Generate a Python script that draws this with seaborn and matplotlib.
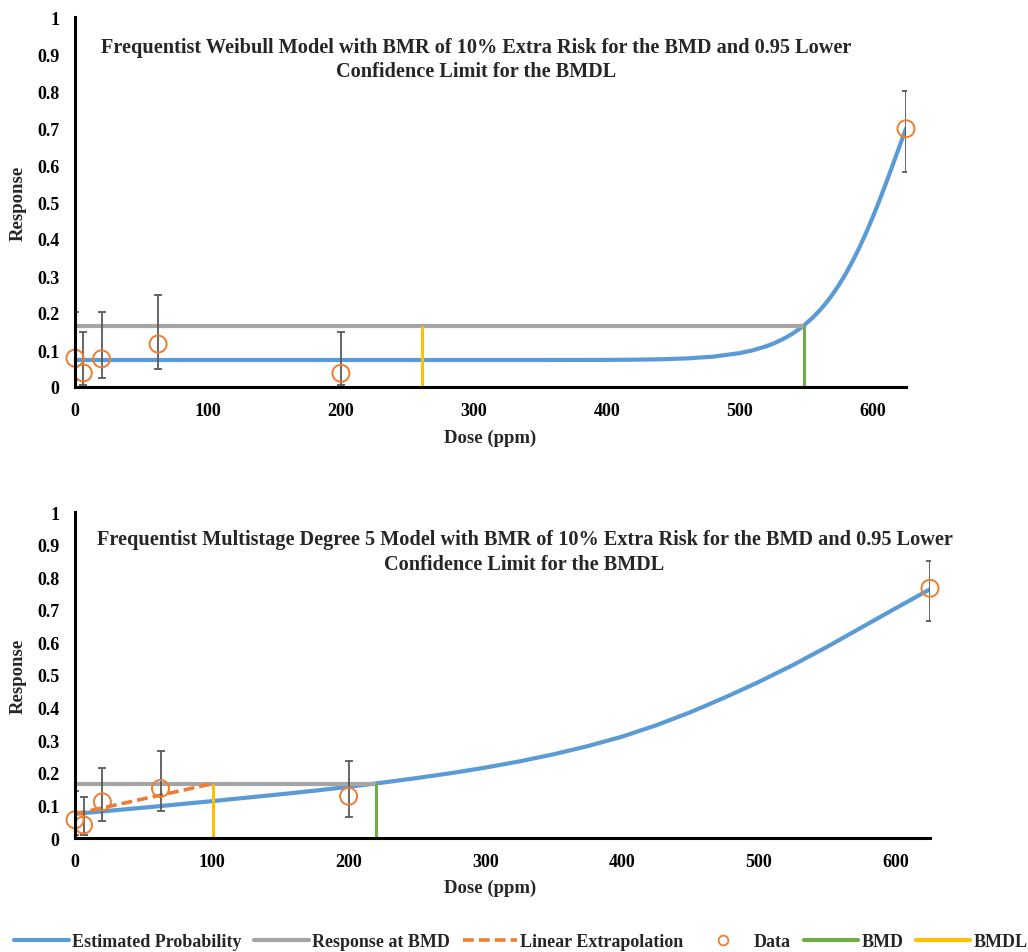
import matplotlib
matplotlib.use("Agg")
import matplotlib.pyplot as plt
from matplotlib.lines import Line2D
import seaborn as sns

sns.set_style("white")
plt.rcParams["font.family"] = ["Liberation Serif", "DejaVu Serif"]
plt.rcParams["font.weight"] = "bold"

# ---- colours (Office palette) ----
BLUE = "#5B9BD5"
GRAY = "#A5A5A5"
ORANGE = "#ED7D31"
GREEN = "#70AD47"
YELLOW = "#FFC000"
ERR = "#595959"

# ---- shared ----
doses = [0, 6.25, 20, 62.5, 200, 625]
y_ticks = [0, 0.1, 0.2, 0.3, 0.4, 0.5, 0.6, 0.7, 0.8, 0.9, 1.0]
y_tick_labels = ["0", "0.1", "0.2", "0.3", "0.4", "0.5", "0.6", "0.7", "0.8", "0.9", "1"]
x_ticks = [0, 100, 200, 300, 400, 500, 600]
x_tick_labels = ["0", "100", "200", "300", "400", "500", "600"]

# ---- Weibull panel ----
wb_title = ("Frequentist Weibull Model with BMR of 10% Extra Risk for the BMD and 0.95 Lower\n"
            "Confidence Limit for the BMDL")
wb_resp = [0.078, 0.038, 0.076, 0.116, 0.037, 0.698]
wb_low = [0.02, 0.005, 0.025, 0.05, 0.005, 0.58]
wb_high = [0.203, 0.148, 0.203, 0.25, 0.148, 0.80]
wb_curve_dose = [0, 100, 200, 300, 350, 400, 420, 440, 460, 480, 500, 510, 520, 525,
                 530, 535, 540, 545, 548, 555, 560, 565, 570, 575, 580, 585, 590,
                 595, 600, 605, 610, 615, 620, 625]
wb_curve_prob = [0.073, 0.073, 0.073, 0.073, 0.073, 0.0733, 0.0738, 0.0749, 0.0772,
                 0.0820, 0.0916, 0.0994, 0.1102, 0.1170, 0.1251, 0.1343, 0.1450,
                 0.1574, 0.1657, 0.1880, 0.2066, 0.2277, 0.2516, 0.2783, 0.3082,
                 0.3413, 0.3774, 0.4168, 0.4591, 0.5041, 0.5512, 0.6000, 0.6493,
                 0.6985]
wb_bmd = 548
wb_bmdl = 261
wb_bmd_resp = 0.165

# ---- Multistage panel ----
ms_title = ("Frequentist Multistage Degree 5 Model with BMR of 10% Extra Risk for the BMD and 0.95 Lower\n"
            "Confidence Limit for the BMDL")
ms_resp = [0.056, 0.040, 0.111, 0.152, 0.128, 0.766]
ms_low = [0.01, 0.009, 0.052, 0.083, 0.063, 0.667]
ms_high = [0.145, 0.127, 0.215, 0.267, 0.237, 0.851]
ms_curve_dose = [0, 25, 50, 75, 100, 125, 150, 175, 200, 225, 250, 275, 300, 325,
                 350, 375, 400, 425, 450, 475, 500, 525, 550, 575, 600, 625]
ms_curve_prob = [0.074, 0.0835, 0.093, 0.103, 0.113, 0.1235, 0.134, 0.145, 0.157,
                 0.170, 0.184, 0.199, 0.216, 0.235, 0.257, 0.282, 0.311, 0.346,
                 0.386, 0.431, 0.479, 0.531, 0.587, 0.646, 0.705, 0.763]
ms_bmd = 220
ms_bmdl = 101
ms_bmd_resp = 0.167
ms_background = 0.074


def draw_panel(ax, title, title_x, title_y, resp, low, high, cdose, cprob,
               bmd, bmdl, bmd_resp, background=None):
    sns.lineplot(x=cdose, y=cprob, ax=ax, color=BLUE, linewidth=3, zorder=2)
    ax.plot([0, bmd], [bmd_resp, bmd_resp], color=GRAY, linewidth=3, zorder=3,
            solid_capstyle="butt")
    if background is not None:
        ax.plot([0, bmdl], [background, bmd_resp], color=ORANGE, linewidth=2.6,
                dashes=(3, 1.4), zorder=4)
    ax.plot([bmd, bmd], [0, bmd_resp], color=GREEN, linewidth=2.2, zorder=4,
            solid_capstyle="butt")
    ax.plot([bmdl, bmdl], [0, bmd_resp], color=YELLOW, linewidth=2.2, zorder=4,
            solid_capstyle="butt")

    yerr = [[r - lo for r, lo in zip(resp, low)], [hi - r for r, hi in zip(resp, high)]]
    ax.errorbar(doses, resp, yerr=yerr, fmt="none", ecolor=ERR, elinewidth=1.3,
                capsize=3.2, capthick=1.3, zorder=5)
    sns.scatterplot(x=doses, y=resp, ax=ax, marker="o", s=150, facecolor="none",
                    edgecolor=ORANGE, linewidth=1.4, zorder=6, clip_on=False)

    ax.set_xlim(0, 625)
    ax.set_ylim(0, 1)
    ax.set_xticks(x_ticks)
    ax.set_xticklabels(x_tick_labels)
    ax.set_yticks(y_ticks)
    ax.set_yticklabels(y_tick_labels)
    ax.tick_params(axis="both", length=0, labelsize=13, colors="black")
    ax.tick_params(axis="x", pad=11)
    ax.tick_params(axis="y", pad=11)
    for lbl in ax.get_xticklabels() + ax.get_yticklabels():
        lbl.set_fontweight("bold")

    for side in ["top", "right"]:
        ax.spines[side].set_visible(False)
    for side in ["left", "bottom"]:
        ax.spines[side].set_color("black")
        ax.spines[side].set_linewidth(2.2)
        ax.spines[side].set_zorder(7)

    ax.set_xlabel("Dose (ppm)", fontsize=13.5, fontweight="bold", va="top")
    ax.set_ylabel("Response", fontsize=13.5, fontweight="bold")
    ax.text(title_x, title_y, title, transform=ax.transAxes, ha="center", va="top",
            multialignment="center", fontsize=14.6, fontweight="bold",
            linespacing=1.3)


fig = plt.figure(figsize=(10.28, 9.53), dpi=100)

ax1 = fig.add_axes([75 / 1028, 1 - 388 / 953, 831 / 1028, 370 / 953])
draw_panel(ax1, wb_title, 0.4826, 0.946, wb_resp, wb_low, wb_high,
           wb_curve_dose, wb_curve_prob, wb_bmd, wb_bmdl, wb_bmd_resp)
ax1.xaxis.set_label_coords(0.4994, -0.112)
ax1.yaxis.set_label_coords(-0.058, 0.5)

ax2 = fig.add_axes([75 / 1028, 1 - 839 / 953, 855 / 1028, 326 / 953])
draw_panel(ax2, ms_title, 0.5257, 0.947, ms_resp, ms_low, ms_high,
           ms_curve_dose, ms_curve_prob, ms_bmd, ms_bmdl, ms_bmd_resp,
           background=ms_background)
ax2.xaxis.set_label_coords(0.485, -0.124)
ax2.yaxis.set_label_coords(-0.056, 0.5)

handles = [
    Line2D([], [], color=BLUE, linewidth=3),
    Line2D([], [], color=GRAY, linewidth=3),
    Line2D([], [], color=ORANGE, linewidth=2.6, dashes=(3, 1.4)),
    Line2D([], [], color=ORANGE, marker="o", linestyle="none", markersize=7,
           markerfacecolor="none", markeredgewidth=1.3),
    Line2D([], [], color=GREEN, linewidth=3),
    Line2D([], [], color=YELLOW, linewidth=3),
]
labels = ["Estimated Probability", "Response at BMD", "Linear Extrapolation",
          "Data", "BMD", "BMDL"]
fig.legend(handles, labels, loc="center", bbox_to_anchor=(0.507, 0.0105), ncol=6,
           frameon=False, handlelength=3.0, handletextpad=0.2, columnspacing=0.7,
           prop={"size": 13, "weight": "bold"})

fig.savefig("out.png", dpi=100)
